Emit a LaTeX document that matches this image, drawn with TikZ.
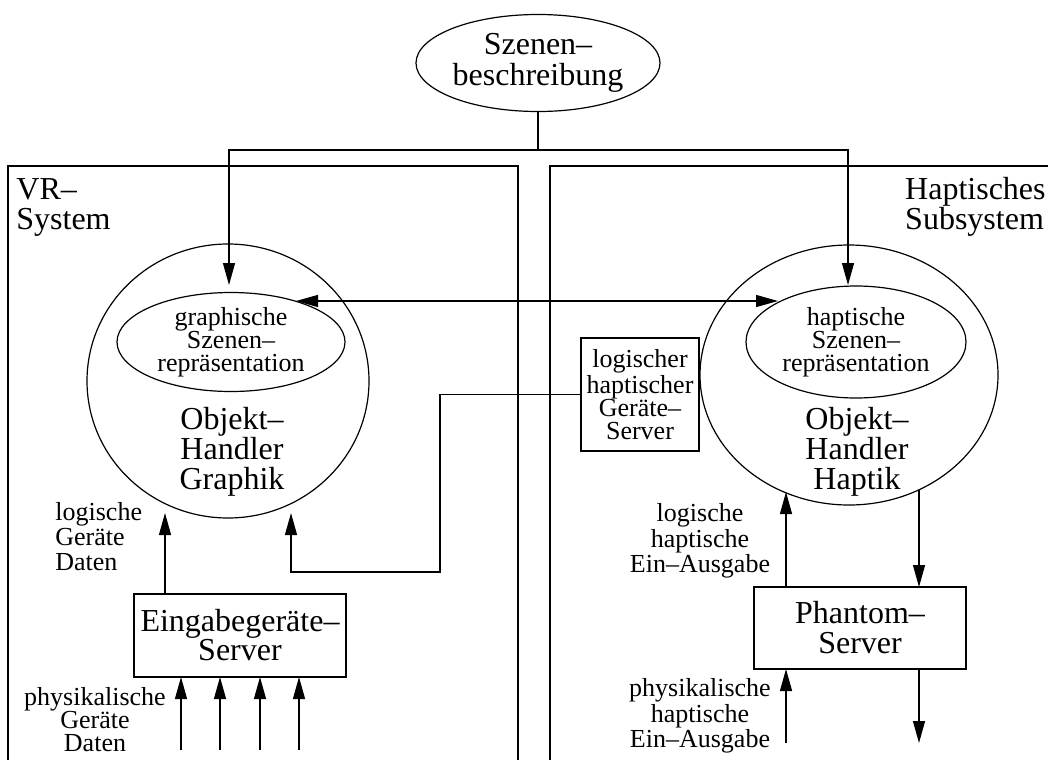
\documentclass[tikz,border=0pt]{standalone}
\usepackage{fontspec}
\setmainfont{Liberation Serif}
\usetikzlibrary{arrows.meta,shapes.geometric}
\tikzset{
  wire/.style={line width=0.6pt},
  arr/.style={wire, -{Triangle[length=11pt,width=6pt]}},
  dblarr/.style={wire, {Triangle[length=11pt,width=6pt]}-{Triangle[length=11pt,width=6pt]}},
  blob/.style={draw, ellipse, wire, inner sep=0pt, outer sep=0pt},
  boxnode/.style={draw, rectangle, wire, align=center, inner sep=0pt, outer sep=0pt},
  bigtext/.style={font=\fontsize{16}{15}\selectfont, align=center},
  smalltext/.style={font=\fontsize{13}{11.5}\selectfont, align=center}
}

\begin{document}
\begin{tikzpicture}[x=0.5pt, y=-0.5pt]
  \useasboundingbox (0,0) rectangle (1048,760);

  % frames of the two systems
  \draw[wire] (8,760) -- (8,166) -- (518,166) -- (518,760);
  \draw[wire] (1048,166) -- (550,166) -- (550,760);
  \node[bigtext, align=left, inner sep=0pt, anchor=west, font=\fontsize{16}{15}\selectfont] (vrlabel) at (16,207) {VR--\\System};
  \node[bigtext, align=left, inner sep=0pt, anchor=east, font=\fontsize{16}{15}\selectfont] (haplabel) at (1046,207) {Haptisches\\Subsystem};

  % scene description
  \node[blob, bigtext, font=\fontsize{16}{15.5}\selectfont, minimum width=122pt, minimum height=48.5pt] (desc) at (538,63) {Szenen--\\beschreibung};
  \coordinate (split) at (538,150);
  \coordinate (gtop) at (229,285);
  \coordinate (htop) at (848,285);

  % graphics side
  \node[blob, minimum width=141pt, minimum height=137pt] (gobj) at (228,381) {};
  \node[blob, smalltext, minimum width=114pt, minimum height=49.5pt] (gscene) at (231,342) {graphische\\Szenen--\\repräsentation};
  \node[bigtext, inner sep=0pt] (gobjlabel) at (232,452) {Objekt--\\Handler\\Graphik};
  \node[boxnode, bigtext, font=\fontsize{16}{14.5}\selectfont, minimum width=106pt, minimum height=41.5pt] (ebox) at (240,635.5) {Eingabegeräte--\\Server};
  \node[smalltext, align=left, inner sep=0pt, anchor=west, font=\fontsize{13}{12.5}\selectfont] (glabel) at (55,537) {logische\\Geräte\\Daten};
  \node[smalltext, inner sep=0pt, font=\fontsize{13}{11.5}\selectfont] (plabel) at (95,720) {physikalische\\Geräte\\Daten};
  \coordinate (gin1) at (165,513);
  \coordinate (gin2) at (291,513);
  \coordinate (kink) at (440,572);

  % haptics side
  \node[blob, minimum width=149pt, minimum height=130pt] (hobj) at (849,375) {};
  \node[blob, smalltext, minimum width=110pt, minimum height=56pt] (hscene) at (856,342) {haptische\\Szenen--\\repräsentation};
  \node[bigtext, inner sep=0pt] (hobjlabel) at (857,452) {Objekt--\\Handler\\Haptik};
  \node[boxnode, smalltext, minimum width=59pt, minimum height=56.5pt] (lbox) at (640,394.5) {logischer\\haptischer\\Geräte--\\Server};
  \node[boxnode, bigtext, minimum width=106pt, minimum height=41pt] (pbox) at (860,628) {Phantom--\\Server};
  \node[smalltext, inner sep=0pt] (hlabel) at (700,541) {logische\\haptische\\Ein--Ausgabe};
  \node[smalltext, inner sep=0pt] (hplabel) at (700,716) {physikalische\\haptische\\Ein--Ausgabe};
  \coordinate (hin1) at (786,492);
  \coordinate (hout1) at (919,490);
  \coordinate (hin2) at (786,743);
  \coordinate (hout2) at (919,743);

  % connectors
  \draw[wire] (desc.south) -- (split);
  \draw[arr] (split) -| (gtop);
  \draw[arr] (split) -| (htop);
  \coordinate (gin) at (296,301);
  \coordinate (hin) at (778,301);
  \draw[dblarr] (gin) -- (hin);
  \draw[arr] (lbox.west) -| (kink) -| (gin2);
  \draw[arr] (ebox.north -| gin1) -- (gin1);
  \foreach \x [count=\i] in {181,220,260,299} {
    \coordinate (dev\i) at (\x,750);
    \draw[arr] (dev\i) -- (dev\i |- ebox.south);
  }
  \draw[arr] (pbox.north -| hin1) -- (hin1);
  \draw[arr] (hout1) -- (pbox.north -| hout1);
  \draw[arr] (hin2) -- (pbox.south -| hin2);
  \draw[arr] (pbox.south -| hout2) -- (hout2);
\end{tikzpicture}
\end{document}
